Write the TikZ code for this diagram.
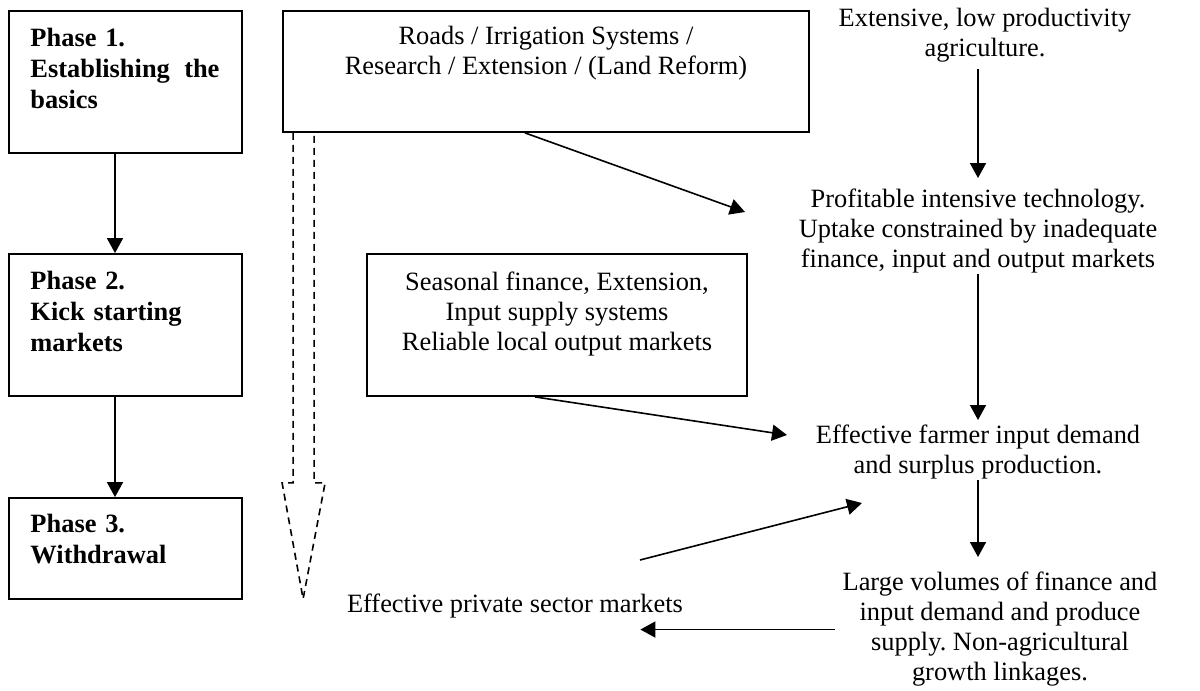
\documentclass[tikz,border=0pt]{standalone}
\usepackage{fontspec}
\setmainfont{Liberation Serif}
\usetikzlibrary{arrows.meta, positioning}
\frenchspacing

\begin{document}
\begin{tikzpicture}[
    x=0.5pt, y=-0.5pt,
    font=\fontsize{13.2pt}{15pt}\selectfont,
    box/.style={rectangle, draw=black, line width=0.9pt, inner sep=0pt},
    phasetext/.style={font=\fontsize{13.2pt}{15.5pt}\selectfont\bfseries, align=left, text width=94.5pt, inner sep=0pt},
    flowtext/.style={align=center, inner sep=0pt},
    arrow/.style={line width=0.8pt, -{Triangle[length=7.5pt, width=8pt]}},
    hollow/.style={line width=0.8pt, dash pattern=on 3.5pt off 2.5pt}
]
\useasboundingbox (0,0) rectangle (1200,691);

% ===== PHASES (left column) =====
\node[box, minimum width=116.5pt, minimum height=71pt] (p1) at (125.5,82) {};
\node[box, minimum width=116.5pt, minimum height=71pt] (p2) at (125.5,325) {};
\node[box, minimum width=116.5pt, minimum height=50.5pt] (p3) at (125.5,548.5) {};
\node[phasetext, below right=9pt and 11pt of p1.north west] (p1text) {Phase 1.\\ Establishing\hfill the\\ basics};
\node[phasetext, below right=9pt and 11pt of p2.north west] (p2text) {Phase 2.\\ Kick starting\\ markets};
\node[phasetext, below right=8.5pt and 11pt of p3.north west] (p3text) {Phase 3.\\ Withdrawal};

% ===== INTERVENTIONS =====
\node[box, minimum width=263pt, minimum height=60.5pt] (roads) at (546,71.5) {};
\node[flowtext, below=8pt of roads.north] (roadstext) {Roads / Irrigation Systems /\\ Research / Extension / (Land Reform)};
\node[box, minimum width=190pt, minimum height=71pt] (season) at (557,325) {};
\node[flowtext, below=9pt of season.north] (seasontext) {Seasonal finance, Extension,\\ Input supply systems\\ Reliable local output markets};

% ===== OUTCOMES (right column) =====
\node[flowtext, anchor=north] (extensive) at (985,8) {Extensive, low productivity\\ agriculture.};
\node[flowtext, anchor=north] (profit) at (978,189) {Profitable intensive technology.\\ Uptake constrained by inadequate\\ finance, input and output markets};
\node[flowtext, anchor=north] (demand) at (978,425) {Effective farmer input demand\\ and surplus production.};
\node[flowtext, anchor=north] (volumes) at (1000,572) {Large volumes of finance and\\ input demand and produce\\ supply. Non-agricultural\\ growth linkages.};
\node[flowtext, anchor=north] (private) at (515,594) {Effective private sector markets};

% ===== CONNECTIONS - Phases =====
\draw[arrow] ([xshift=-5.25pt]p1.south) -- ([xshift=-5.25pt]p2.north);
\draw[arrow] ([xshift=-5.25pt]p2.south) -- ([xshift=-5.25pt]p3.north);

% ===== CONNECTIONS - Interventions =====
\draw[arrow] ([xshift=-10.5pt]roads.south) -- ([shift={(-233,23)}]profit.north);
\draw[arrow] ([xshift=-11pt]season.south) -- ([shift={(-191,10)}]demand.north);

% ===== CONNECTIONS - Outcomes =====
\draw[arrow, shorten <=3pt] (profit.north |- extensive.south) -- ([yshift=5.5pt]profit.north);
\draw[arrow] (demand.north |- profit.south) -- ([yshift=2.5pt]demand.north);
\draw[arrow, shorten >=7.5pt] (demand.south) -- (demand.south |- volumes.north);
\draw[arrow, shorten <=3.5pt, shorten >=-21.5pt] (volumes.west) -- (volumes.west -| private.east);
\draw[arrow] ([shift={(125,-34)}]private.north) -- ([shift={(-116,78)}]demand.north);

% ===== WITHDRAWAL (hollow dashed arrow) =====
\draw[hollow] ([xshift=5.5pt]roads.south west) -- ++(0,350) -- ++(-11,0) -- ++(21,116)
    -- ++(22,-116) -- ++(-11,0) -- ([xshift=16pt]roads.south west);

\end{tikzpicture}
\end{document}
